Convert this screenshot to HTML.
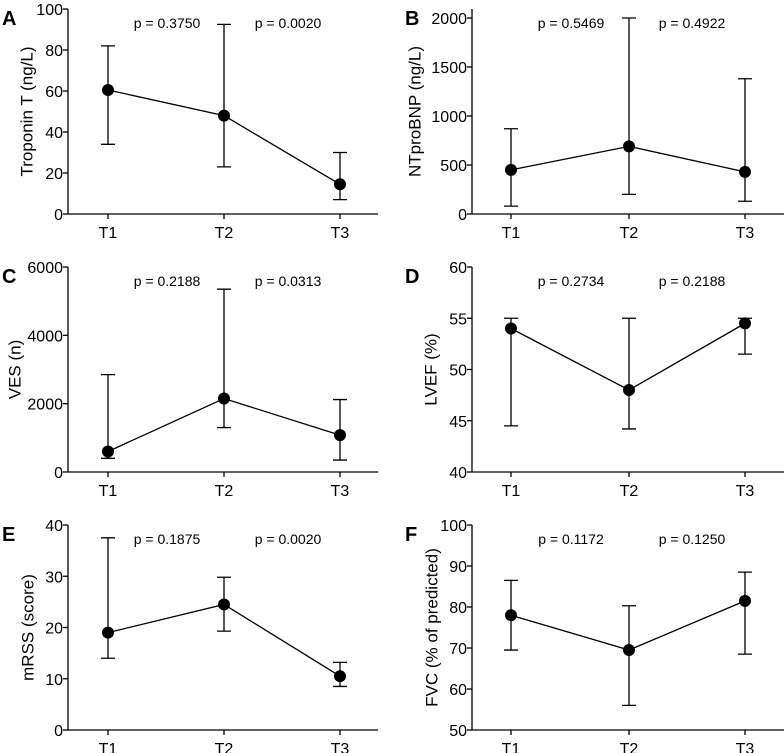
<!DOCTYPE html>
<html><head><meta charset="utf-8"><style>
body{margin:0;background:#fff;}
svg{display:block;font-family:"Liberation Sans",Arial,sans-serif;}
</style></head><body>
<svg id="fig" width="784" height="753"></svg>
<script>
const categories=["T1","T2","T3"];
const panelLetters=["A","B","C","D","E","F"];
const yTitles=["Troponin T (ng/L)","NTproBNP (ng/L)","VES (n)","LVEF (%)","mRSS (score)","FVC (% of predicted)"];
const yMin=[0,0,0,40,0,50];
const yMax=[100,2092,6000,60,40,100];
const yTicks=[[0,20,40,60,80,100],[0,500,1000,1500,2000],[0,2000,4000,6000],[40,45,50,55,60],[0,10,20,30,40],[50,60,70,80,90,100]];
const medians=[[60.5,48,14.5],[450,690,430],[600,2150,1080],[54,48,54.5],[19,24.5,10.5],[78,69.5,81.5]];
const lows=[[34,23,7],[80,200,130],[400,1300,350],[44.5,44.2,51.5],[14,19.3,8.5],[69.5,56,68.5]];
const highs=[[82,92.5,30],[870,2000,1380],[2850,5350,2120],[55,55,55],[37.5,29.8,13.2],[86.5,80.3,88.5]];
const pValues=[["p = 0.3750","p = 0.0020"],["p = 0.5469","p = 0.4922"],["p = 0.2188","p = 0.0313"],["p = 0.2734","p = 0.2188"],["p = 0.1875","p = 0.0020"],["p = 0.1172","p = 0.1250"]];
const titleX=[27,415,15,431,28,432];

const NS="http://www.w3.org/2000/svg";
const svg=document.getElementById('fig');
function mk(tag,attrs,parent,text){const e=document.createElementNS(NS,tag);for(const k in attrs)e.setAttribute(k,attrs[k]);if(text!==undefined)e.textContent=text;parent.appendChild(e);return e;}

for(let p=0;p<6;p++){
  const col=p%2,row=Math.floor(p/2);
  const oy=row*258;
  const axX=col?472:68, top=9+oy, bot=214+oy, xEnd=col?784:378;
  const xs=col?[511,629,745]:[108,224,340];
  const lx=col?405:2;
  const y=v=>bot-(v-yMin[p])/(yMax[p]-yMin[p])*(bot-top);
  const g=mk('g',{},svg);
  
  
  const L=mk('text',{x:lx,y:top+16,'font-size':20,'font-weight':'bold'},g,panelLetters[p]);
  
  
  const ya=mk('line',{x1:axX,y1:top,x2:axX,y2:bot,stroke:'#000','stroke-width':1.3},g);
  
  
  const xa=mk('line',{x1:axX,y1:bot,x2:xEnd,y2:bot,stroke:'#000','stroke-width':1.3},g);
  
  
  yTicks[p].forEach(t=>{
    mk('line',{x1:axX-5,y1:y(t),x2:axX,y2:y(t),stroke:'#000','stroke-width':1.3},g);
    const tl=mk('text',{x:axX-5,y:y(t)+6,'font-size':16,'text-anchor':'end'},g,String(t));
    
    
  });
  categories.forEach((c,i)=>{
    mk('line',{x1:xs[i],y1:bot,x2:xs[i],y2:bot+5,stroke:'#000','stroke-width':1.3},g);
    const tl=mk('text',{x:xs[i],y:bot+24,'font-size':16,'text-anchor':'middle'},g,c);
    
    
  });
  const yt=mk('text',{x:0,y:0,'font-size':17,'text-anchor':'middle','dominant-baseline':'central',transform:`translate(${titleX[p]},${(top+bot)/2}) rotate(-90)`},g,yTitles[p]);
  
  
  mk('polyline',{points:xs.map((x,i)=>x+','+y(medians[p][i])).join(' '),fill:'none',stroke:'#000','stroke-width':1.3},g);
  categories.forEach((c,i)=>{
    const eb=mk('path',{d:`M${xs[i]},${y(lows[p][i])}V${y(highs[p][i])}M${xs[i]-7},${y(lows[p][i])}H${xs[i]+7}M${xs[i]-7},${y(highs[p][i])}H${xs[i]+7}`,stroke:'#000','stroke-width':1.3,fill:'none'},g);
    
    
    const pt=mk('circle',{cx:xs[i],cy:y(medians[p][i]),r:6,fill:'#000'},g);
    
    
  });
  pValues[p].forEach((s,i)=>{
    const t=mk('text',{x:axX+[99,220][i],y:top+19,'font-size':14,'text-anchor':'middle'},g,s);
    
    
  });
}
</script>
</body></html>
